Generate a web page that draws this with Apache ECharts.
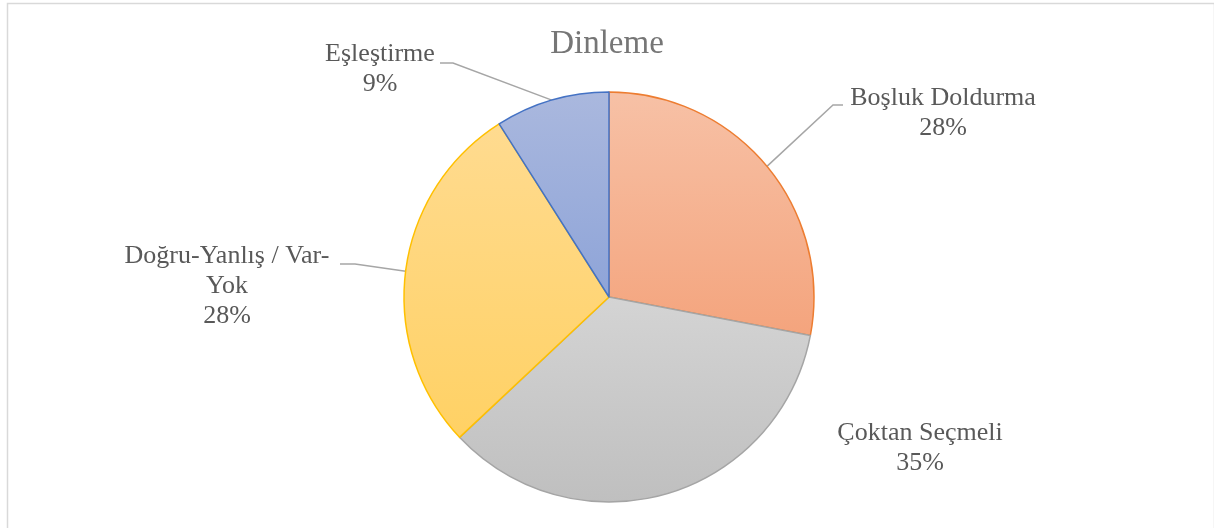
<!DOCTYPE html>
<html>
    <head>
        <meta charset="UTF-8">
        <title>Dinleme</title>
        <script type="text/javascript" src="https://cdn.jsdelivr.net/npm/echarts@6/dist/echarts.min.js"></script>
    </head>
    <body style="height: 100%; margin: 0; overflow: hidden;">
        <div id="container" style="width: 1214px; height: 528px;"></div>
    </body>
    <script type="text/javascript">
        var dom = document.getElementById("container");
        var myChart = echarts.init(dom);

        // veriler
        const categories = ['Boşluk Doldurma', 'Çoktan Seçmeli', 'Doğru-Yanlış / Var-Yok', 'Eşleştirme'];
        const shares = [28, 35, 28, 9];

        // dilim renkleri: [üst, alt, kenar]
        const sliceColors = [
            ['#f7c1a6', '#f4a47d', '#ed7d31'],
            ['#d4d4d4', '#bfbfbf', '#a5a5a5'],
            ['#ffdb90', '#ffd164', '#ffc000'],
            ['#aab8de', '#8ea4d8', '#4472c4']
        ];

        // etiket yerleşimi (x, y, çizgi dirseği, çizgi ucu)
        const labelPlaces = [
            { x: 943, y: 83, elbow: [833, 105], end: [843, 105] },
            { x: 920, y: 418 },
            { x: 227, y: 241, elbow: [355, 264], end: [340, 264] },
            { x: 380, y: 39, elbow: [453, 63], end: [440, 63] }
        ];

        const fontFamily = '"Liberation Serif", "Times New Roman", serif';

        var data = categories.map(function (name, i) {
            var c = sliceColors[i];
            return {
                name: name,
                value: shares[i],
                itemStyle: {
                    color: new echarts.graphic.LinearGradient(0, 0, 0, 1, [
                        { offset: 0, color: c[0] },
                        { offset: 1, color: c[1] }
                    ]),
                    borderColor: c[2],
                    borderWidth: 1.5
                },
                labelLine: { show: !!labelPlaces[i].elbow }
            };
        });

        var option = {
            animation: false,
            backgroundColor: '#ffffff',
            title: {
                text: 'Dinleme',
                left: 'center',
                top: 23,
                textStyle: {
                    fontFamily: fontFamily,
                    fontSize: 33,
                    fontWeight: 'normal',
                    color: '#767676'
                }
            },
            graphic: [{
                type: 'rect',
                left: 5,
                top: 1,
                shape: { width: 1207, height: 600 },
                style: { fill: 'none', stroke: '#d9d9d9', lineWidth: 1.5 }
            }],
            series: [{
                type: 'pie',
                center: [609, 297],
                radius: 205,
                startAngle: 90,
                clockwise: true,
                avoidLabelOverlap: false,
                data: data,
                label: {
                    show: true,
                    position: 'outer',
                    fontFamily: fontFamily,
                    fontSize: 26,
                    lineHeight: 30,
                    color: '#595959',
                    align: 'center',
                    formatter: function (p) {
                        return p.name.replace('Var-', 'Var-\n') + '\n' + Math.round(p.percent) + '%';
                    }
                },
                labelLine: {
                    show: true,
                    length: 20,
                    length2: 10,
                    lineStyle: { color: '#a6a6a6', width: 1.5 }
                },
                labelLayout: function (params) {
                    var p = labelPlaces[params.dataIndex];
                    var out = {
                        x: p.x,
                        y: p.y,
                        align: 'center',
                        verticalAlign: 'top'
                    };
                    if (p.elbow && params.labelLinePoints) {
                        out.labelLinePoints = [params.labelLinePoints[0], p.elbow, p.end];
                    }
                    return out;
                },
                emphasis: { disabled: true }
            }]
        };

        if (option && typeof option === 'object') {
            myChart.setOption(option);
        }
    </script>
</html>
